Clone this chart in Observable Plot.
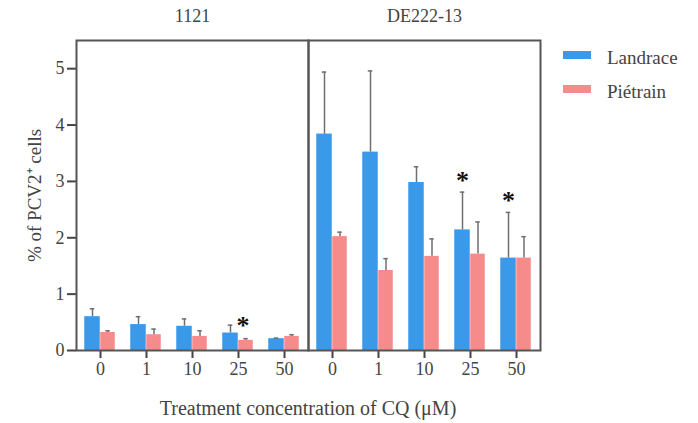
<!DOCTYPE html>
<html>
<head>
<meta charset="utf-8">
<script src="https://cdn.jsdelivr.net/npm/d3@7"></script>
<script src="https://cdn.jsdelivr.net/npm/@observablehq/plot@0.6"></script>
<style>
  body { margin: 0; background: #fff; }
  #wrap { position: relative; width: 698px; height: 423px; font-family: "Liberation Serif", serif; }
  #wrap svg, #wrap svg text { font-family: "Liberation Serif", serif; }
  #wrap svg g[aria-label="x-axis tick"], #wrap svg g[aria-label="y-axis tick"] { stroke-width: 2px; }
  #wrap svg g[aria-label="y-axis label"] text { font-size: 19px; }
  .legend { position: absolute; left: 563px; top: 41px; color: #444; font-size: 19px; }
  .legend .item { display: flex; align-items: center; height: 34px; }
  .legend .sw { width: 28px; height: 8px; margin-right: 16px; position: relative; top: -3px; }
  .xlabel { position: absolute; left: 0; width: 616px; text-align: center; top: 398px; font-size: 20px; color: #444; line-height: 1; }
</style>
</head>
<body>
<div id="wrap"></div>
<script>
const strains = ["1121", "DE222-13"];
const concentrations = ["0", "1", "10", "25", "50"];
const seriesNames = ["Landrace", "Piétrain"];
const seriesColors = ["#3a99e8", "#f58b8b"];

// means and upper error-bar ends
const landraceMean1121 = [0.60, 0.46, 0.43, 0.31, 0.21];
const landraceUpper1121 = [0.74, 0.60, 0.56, 0.45, 0.22];
const pietrainMean1121 = [0.32, 0.28, 0.25, 0.18, 0.25];
const pietrainUpper1121 = [0.35, 0.38, 0.35, 0.21, 0.28];
const landraceMeanDE = [3.84, 3.52, 2.98, 2.14, 1.64];
const landraceUpperDE = [4.94, 4.96, 3.26, 2.81, 2.45];
const pietrainMeanDE = [2.02, 1.42, 1.67, 1.71, 1.64];
const pietrainUpperDE = [2.10, 1.63, 1.98, 2.28, 2.02];

// significance stars: strain, concentration, series, height
const starStrain = ["1121", "DE222-13", "DE222-13"];
const starConc = ["25", "25", "50"];
const starSeries = ["Piétrain", "Landrace", "Landrace"];
const starY = [0.56, 3.13, 2.79];

const rows = [];
const add = (strain, series, means, uppers) => concentrations.forEach((c, i) =>
  rows.push({strain, series, conc: c, mean: means[i], upper: uppers[i]}));
add("1121", "Landrace", landraceMean1121, landraceUpper1121);
add("1121", "Piétrain", pietrainMean1121, pietrainUpper1121);
add("DE222-13", "Landrace", landraceMeanDE, landraceUpperDE);
add("DE222-13", "Piétrain", pietrainMeanDE, pietrainUpperDE);
const stars = starStrain.map((s, i) => ({strain: s, conc: starConc[i], series: starSeries[i], y: starY[i]}));

const L = rows.filter(d => d.series === "Landrace");
const P = rows.filter(d => d.series === "Piétrain");
const SL = stars.filter(d => d.series === "Landrace");
const SP = stars.filter(d => d.series === "Piétrain");
const band = 465 / 2 / 5; // per-facet band width
const half = band / 2;
const blueW = 16, pinkW = 15;
const errStroke = "#6f6f6f";

const chart = Plot.plot({
  width: 698,
  height: 423,
  marginLeft: 75,
  marginRight: 158,
  marginTop: 40,
  marginBottom: 73,
  style: {fontFamily: "'Liberation Serif', serif", fontSize: "18px", color: "#444", background: "#fff"},
  fx: {domain: strains, padding: 0, axis: "top", label: null, tickSize: 0, tickPadding: 19},
  x: {domain: concentrations, padding: 0, label: null, tickSize: 8, tickPadding: 4},
  y: {domain: [0, 5.5], ticks: [0, 1, 2, 3, 4, 5], tickFormat: d => String(d), label: "% of PCV2⁺ cells", labelArrow: "none",
      labelAnchor: "center", labelOffset: 49, tickSize: 9, tickPadding: 3},
  marks: [
    Plot.barY(L, {fx: "strain", x: "conc", y: "mean", fill: seriesColors[0], insetLeft: half - blueW, insetRight: half}),
    Plot.barY(P, {fx: "strain", x: "conc", y: "mean", fill: seriesColors[1], insetLeft: half, insetRight: half - pinkW}),
    Plot.ruleX(L, {fx: "strain", x: "conc", y1: "mean", y2: "upper", dx: -blueW / 2, stroke: errStroke, strokeWidth: 1.5}),
    Plot.ruleX(P, {fx: "strain", x: "conc", y1: "mean", y2: "upper", dx: pinkW / 2, stroke: errStroke, strokeWidth: 1.5}),
    Plot.tickY(L, {fx: "strain", x: "conc", y: "upper", dx: -blueW / 2, insetLeft: half - 2.5, insetRight: half - 2.5, stroke: errStroke, strokeWidth: 1.5}),
    Plot.tickY(P, {fx: "strain", x: "conc", y: "upper", dx: pinkW / 2, insetLeft: half - 2.5, insetRight: half - 2.5, stroke: errStroke, strokeWidth: 1.5}),
    Plot.text(SL, {fx: "strain", x: "conc", y: "y", text: () => "*", dx: -blueW / 2,
      fontSize: 26, fontWeight: "bold", fill: "#111", lineAnchor: "middle", dy: 7}),
    Plot.text(SP, {fx: "strain", x: "conc", y: "y", text: () => "*", dx: pinkW / 2 - 3,
      fontSize: 26, fontWeight: "bold", fill: "#111", lineAnchor: "middle", dy: 7}),
    Plot.frame({stroke: "#555", strokeWidth: 2})
  ]
});

const wrap = document.getElementById("wrap");
wrap.appendChild(chart);

const legend = document.createElement("div");
legend.className = "legend";
seriesNames.forEach((name, i) => {
  const item = document.createElement("div");
  item.className = "item";
  const sw = document.createElement("span");
  sw.className = "sw";
  sw.style.background = seriesColors[i];
  const tx = document.createElement("span");
  tx.textContent = name;
  item.appendChild(sw);
  item.appendChild(tx);
  legend.appendChild(item);
});
wrap.appendChild(legend);

const xl = document.createElement("div");
xl.className = "xlabel";
xl.textContent = "Treatment concentration of CQ (μM)";
wrap.appendChild(xl);
</script>
</body>
</html>
